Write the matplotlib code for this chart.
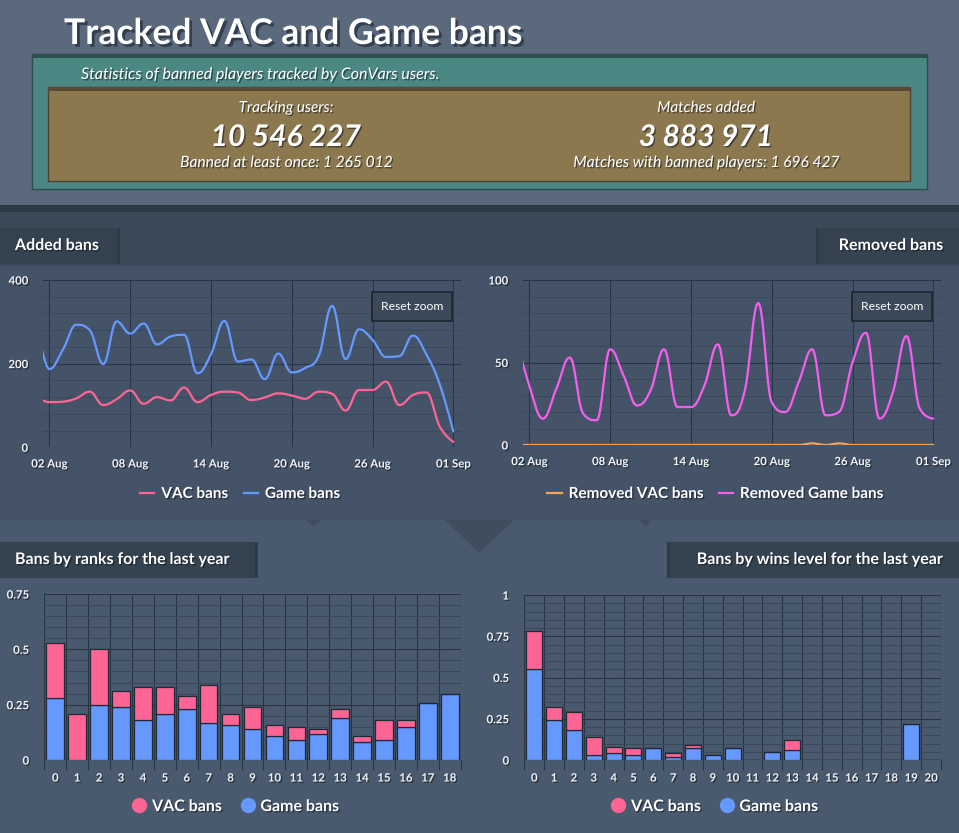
import numpy as np
import pandas as pd
import matplotlib
matplotlib.use('Agg')
import matplotlib.pyplot as plt
import matplotlib.dates as mdates
import matplotlib.patheffects as pe
from matplotlib.patches import Rectangle, Polygon
from matplotlib.lines import Line2D
from matplotlib.ticker import MultipleLocator, FixedLocator

plt.rcParams['font.family'] = ['Lato', 'DejaVu Sans']

W, H = 959, 833

# ---- data ----
days = pd.date_range('2023-08-01', '2023-09-01', freq='D')
vac_added = [120, 108, 109, 117, 133, 101, 115, 136, 104, 120, 112, 143, 108, 125, 133, 131,
             113, 119, 129, 124, 116, 133, 128, 88, 137, 137, 157, 101, 125, 131, 49, 13]
game_added = [310, 187, 233, 293, 280, 199, 301, 272, 296, 246, 265, 269, 177, 222, 302, 205,
              210, 163, 224, 179, 190, 218, 338, 211, 282, 257, 216, 218, 267, 222, 150, 38]
vac_removed = [0, 0, 0, 0, 0, 0, 0, 0, 0, 0, 0, 0, 0, 0, 0, 0,
               0, 0, 0, 0, 0, 0, 1, 0, 1, 0, 0, 0, 0, 0, 0, 0]
game_removed = [65, 36, 16, 34, 53, 19, 15, 58, 42, 24, 33, 58, 23, 23, 36, 61,
                18, 33, 86, 26, 20, 38, 58, 18, 20, 50, 68, 16, 32, 66, 22, 16]

rank_labels = [str(i) for i in range(19)]
rank_game = [0.279, 0, 0.25, 0.238, 0.179, 0.206, 0.229, 0.166, 0.157, 0.139, 0.107,
             0.089, 0.116, 0.188, 0.080, 0.089, 0.148, 0.256, 0.297]
rank_vac = [0.248, 0.206, 0.25, 0.075, 0.149, 0.122, 0.059, 0.171, 0.049, 0.099, 0.05,
            0.059, 0.023, 0.041, 0.027, 0.09, 0.031, 0, 0]

wins_labels = [str(i) for i in range(21)]
wins_game = [0.549, 0.240, 0.180, 0.028, 0.040, 0.028, 0.071, 0.016, 0.071, 0.028, 0.071,
             0, 0.046, 0.059, 0, 0, 0, 0, 0, 0.216, 0]
wins_vac = [0.235, 0.079, 0.113, 0.109, 0.037, 0.043, 0, 0.024, 0.018, 0, 0,
            0, 0, 0.060, 0, 0, 0, 0, 0, 0, 0]

PINK = '#ff6594'
BLUE = '#6699ff'
ORANGE = '#f7a35c'
MAGENTA = '#f45ff0'
TXT = '#f2f4f7'
MAJ = '#2a3543'
MIN = '#3b4859'

shadow = [pe.withSimplePatchShadow(offset=(1, -1), shadow_rgbFace='#141b24', alpha=0.6)]


def spline(xs, ys, n=24):
    # highcharts-like spline smoothing
    xs = np.asarray(xs, float)
    ys = np.asarray(ys, float)
    k = len(xs)
    s = 1.5
    d = s + 1
    lc = np.column_stack([xs, ys])
    rc = lc.copy()
    for i in range(1, k - 1):
        x, y = xs[i], ys[i]
        lx, ly, nx, ny = xs[i - 1], ys[i - 1], xs[i + 1], ys[i + 1]
        lcx, lcy = (s * x + lx) / d, (s * y + ly) / d
        rcx, rcy = (s * x + nx) / d, (s * y + ny) / d
        corr = (rcy - lcy) * (rcx - x) / (rcx - lcx) + y - rcy
        lcy += corr
        rcy += corr
        if lcy > ly and lcy > y:
            lcy = max(ly, y); rcy = 2 * y - lcy
        elif lcy < ly and lcy < y:
            lcy = min(ly, y); rcy = 2 * y - lcy
        if rcy > ny and rcy > y:
            rcy = max(ny, y); lcy = 2 * y - rcy
        elif rcy < ny and rcy < y:
            rcy = min(ny, y); lcy = 2 * y - rcy
        lc[i] = lcx, lcy
        rc[i] = rcx, rcy
    t = np.linspace(0, 1, n)[:, None]
    out = []
    for i in range(1, k):
        p0 = np.array([xs[i - 1], ys[i - 1]])
        p3 = np.array([xs[i], ys[i]])
        seg = (1 - t) ** 3 * p0 + 3 * (1 - t) ** 2 * t * rc[i - 1] + 3 * (1 - t) * t ** 2 * lc[i] + t ** 3 * p3
        out.append(seg if i == 1 else seg[1:])
    pts = np.vstack(out)
    return pts[:, 0], pts[:, 1]


def box(x0, y0, x1, y1):
    return [x0 / W, 1 - y1 / H, (x1 - x0) / W, (y1 - y0) / H]


fig = plt.figure(figsize=(W / 100, H / 100), dpi=100)
fig.patch.set_facecolor('#45546a')

# ---- page background ----
bg = fig.add_axes([0, 0, 1, 1], zorder=-5)
bg.set_xlim(0, W)
bg.set_ylim(H, 0)
bg.axis('off')
bg.add_patch(Rectangle((0, 0), W, 206, fc='#5a697c', ec='none'))
bg.add_patch(Rectangle((0, 205), W, 8, fc='#2e3946', ec='none'))
bg.add_patch(Rectangle((0, 212), W, 54, fc='#3b4858', ec='none'))
bg.add_patch(Rectangle((0, 266), W, 254, fc='#43526577', ec='none'))
bg.add_patch(Rectangle((0, 520), W, 313, fc='#4a5a6e', ec='none'))
bg.add_patch(Polygon([(445, 520), (514, 520), (479, 553)], fc='#3f4d5e', ec='none'))
bg.add_patch(Polygon([(306, 520), (322, 520), (313, 527)], fc='#3f4d5e', ec='none'))
bg.add_patch(Polygon([(640, 520), (652, 520), (646, 527)], fc='#3f4d5e', ec='none'))

# header boxes
bg.add_patch(Rectangle((32, 54), 895, 135, fc='#4b8783', ec='#2c4d4d', lw=1))
bg.add_patch(Rectangle((32, 54), 895, 4, fc='#2a4f4d', ec='none'))
bg.add_patch(Rectangle((48, 87), 862, 94, fc='#8c784e', ec='#4b4230', lw=1))
bg.add_patch(Rectangle((48, 87), 862, 4, fc='#5a4a33', ec='none'))

bg.text(64, 34, 'Tracked VAC and Game bans', color='white', fontsize=25.5, fontweight='bold',
        va='center', ha='left',
        path_effects=[pe.withSimplePatchShadow(offset=(2, -2), shadow_rgbFace='#1a2230', alpha=0.6)])
bg.text(81, 75, 'Statistics of banned players tracked by ConVars users.', color='white',
        fontsize=11.5, style='italic', va='center', path_effects=shadow)
for cx, head, big, foot in [(286, 'Tracking users:', '10 546 227', 'Banned at least once: 1 265 012'),
                            (706, 'Matches added', '3 883 971', 'Matches with banned players: 1 696 427')]:
    bg.text(cx, 108, head, color='white', fontsize=11, style='italic', ha='center', va='center',
            path_effects=shadow)
    bg.text(cx, 137, big, color='white', fontsize=21.5, style='italic', fontweight='bold',
            ha='center', va='center', path_effects=shadow)
    bg.text(cx, 163, foot, color='white', fontsize=11.2, style='italic', ha='center', va='center',
            path_effects=shadow)

# section headers
for x0, x1, y0, y1, label, tx, ha in [(0, 120, 228, 264, 'Added bans', 15, 'left'),
                                      (816, 959, 228, 264, 'Removed bans', 943, 'right'),
                                      (0, 258, 542, 578, 'Bans by ranks for the last year', 15, 'left'),
                                      (667, 959, 542, 578, 'Bans by wins level for the last year', 943, 'right')]:
    bg.add_patch(Rectangle((x0, y0), x1 - x0, y1 - y0, fc='#35424f', ec='none'))
    edge = x1 - 3 if ha == 'left' else x0
    bg.add_patch(Rectangle((edge, y0), 3, y1 - y0, fc='#2e3a46', ec='none'))
    bg.text(tx, (y0 + y1) / 2, label, color='white', fontsize=11.5, fontweight='bold',
            ha=ha, va='center', path_effects=shadow)


def style_axes(ax):
    ax.set_facecolor('none')
    for sp in ax.spines.values():
        sp.set_visible(False)
    ax.grid(True, which='major', color=MAJ, lw=0.8)
    ax.grid(True, which='minor', axis='y', color=MIN, lw=0.7)
    ax.set_axisbelow(True)
    for lab in ax.get_xticklabels() + ax.get_yticklabels():
        lab.set_path_effects(shadow)


# ---- line charts ----
xs = mdates.date2num(days)
x_start = mdates.date2num(pd.Timestamp('2023-08-02')) - 0.45
x_end = mdates.date2num(pd.Timestamp('2023-09-01')) + 0.55
xticks = pd.date_range('2023-08-02', '2023-09-01', freq='6D')

ax1 = fig.add_axes(box(43.3, 280, 460.7, 447.3))
ax2 = fig.add_axes(box(523.3, 280, 940.7, 445))
for ax, series, ymax, minor in [(ax1, [(vac_added, PINK), (game_added, BLUE)], 400, 40),
                                (ax2, [(vac_removed, ORANGE), (game_removed, MAGENTA)], 100, 10)]:
    for vals, col in series:
        sx, sy = spline(xs, vals)
        ax.plot(sx, sy, color=col, lw=1.6, solid_capstyle='round', zorder=3)
    ax.set_xlim(x_start, x_end)
    ax.set_ylim(0, ymax)
    ax.set_xticks(mdates.date2num(xticks))
    ax.xaxis.set_major_formatter(mdates.DateFormatter('%d %b'))
    ax.set_yticks([0, ymax / 2, ymax])
    ax.set_yticklabels(['0', str(int(ymax / 2)), str(ymax)])
    ax.yaxis.set_minor_locator(MultipleLocator(minor))
    ax.tick_params(axis='both', which='both', length=0, colors=TXT, labelsize=8.2)
    ax.tick_params(axis='x', pad=8)
    ax.tick_params(axis='y', pad=11)
    for lab in ax.get_xticklabels() + ax.get_yticklabels():
        lab.set_fontweight('bold')
    style_axes(ax)

for cx, items in [(240, [('VAC bans', PINK), ('Game bans', BLUE)]),
                  (715, [('Removed VAC bans', ORANGE), ('Removed Game bans', MAGENTA)])]:
    handles = [Line2D([], [], color=c, lw=1.6) for _, c in items]
    leg = fig.legend(handles, [n for n, _ in items], loc='center', ncol=2, frameon=False,
                     bbox_to_anchor=(cx / W, 1 - 494 / H), fontsize=11, handlelength=0.95,
                     handletextpad=0.45, columnspacing=1.0)
    for t in leg.get_texts():
        t.set_color('white')
        t.set_fontweight('bold')
        t.set_path_effects(shadow)

# ---- bar charts ----
ax3 = fig.add_axes(box(44.3, 594, 460.7, 760))
ax4 = fig.add_axes(box(524.3, 595, 941, 760))
for ax, labels, game, vac, ymax in [(ax3, rank_labels, rank_game, rank_vac, 0.75),
                                    (ax4, wins_labels, wins_game, wins_vac, 1.0)]:
    pos = np.arange(len(labels))
    ax.bar(pos, game, width=0.8, color=BLUE, edgecolor='#1f2a36', lw=0.9, zorder=3)
    ax.bar(pos, vac, bottom=game, width=0.8, color=PINK, edgecolor='#1f2a36', lw=0.9, zorder=3)
    ax.set_xlim(-0.5, len(labels) - 0.5)
    ax.set_ylim(0, ymax)
    ax.set_xticks(pos)
    ax.set_xticklabels(labels)
    ax.xaxis.set_minor_locator(FixedLocator(np.arange(len(labels) + 1) - 0.5))
    yt = np.arange(0, ymax + 0.001, 0.25)
    ax.set_yticks(yt)
    ax.set_yticklabels(['0' if v == 0 else ('1' if v == 1 else f'{v:g}') for v in yt])
    ax.yaxis.set_minor_locator(MultipleLocator(0.05))
    ax.tick_params(axis='both', which='major', length=0, colors=TXT, labelsize=8.2)
    ax.tick_params(axis='x', which='minor', length=7, width=0.8, color=MAJ)
    ax.tick_params(axis='y', which='minor', length=0)
    ax.tick_params(axis='x', which='major', pad=9)
    ax.tick_params(axis='y', pad=11)
    for lab in ax.get_xticklabels() + ax.get_yticklabels():
        lab.set_fontweight('bold')
    style_axes(ax)
    ax.grid(False, axis='x', which='major')
    ax.grid(True, axis='x', which='minor', color=MAJ, lw=0.8)

for cx in [236, 715]:
    handles = [Line2D([], [], ls='none', marker='o', ms=11, color=PINK, mec='none'),
               Line2D([], [], ls='none', marker='o', ms=11, color=BLUE, mec='none')]
    leg = fig.legend(handles, ['VAC bans', 'Game bans'], loc='center', ncol=2, frameon=False,
                     bbox_to_anchor=(cx / W, 1 - 807 / H), fontsize=11.5, handlelength=0.8,
                     handletextpad=0.4, columnspacing=1.2)
    for t in leg.get_texts():
        t.set_color('white')
        t.set_fontweight('bold')
        t.set_path_effects(shadow)

# ---- reset zoom buttons ----
ov = fig.add_axes([0, 0, 1, 1], zorder=5)
ov.set_xlim(0, W)
ov.set_ylim(H, 0)
ov.axis('off')
for x0 in [372, 852]:
    ov.add_patch(Rectangle((x0, 292), 80, 29, fc='#3b4959', ec='#1c2530', lw=1.2))
    ov.text(x0 + 40, 306.5, 'Reset zoom', color='white', fontsize=8.7, ha='center', va='center')

fig.savefig('out.png', dpi=100, facecolor=fig.get_facecolor())
